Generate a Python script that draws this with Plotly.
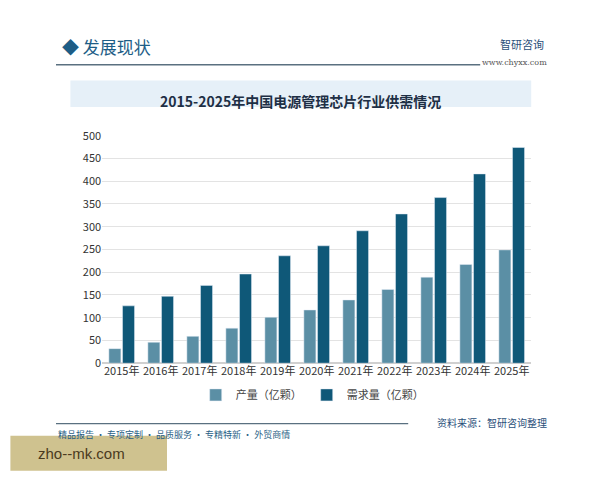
import plotly.graph_objects as go

years = ['2015年', '2016年', '2017年', '2018年', '2019年', '2020年',
         '2021年', '2022年', '2023年', '2024年', '2025年']
output = [32, 46, 59, 77, 101, 117, 139, 162, 189, 217, 249]
demand = [126, 147, 171, 196, 236, 258, 291, 328, 364, 416, 474]

FONT = "Noto Sans CJK SC"
DX = -0.013  # page body margin offset
DY = 0.019

fig = go.Figure()
fig.add_trace(go.Bar(x=years, y=output, name='产量（亿颗）',
                     marker=dict(color='#5b8fa5')))
fig.add_trace(go.Bar(x=years, y=demand, name='需求量（亿颗）',
                     marker=dict(color='#0f5878')))

fig.update_layout(
    width=600, height=480,
    paper_bgcolor='white', plot_bgcolor='white',
    font=dict(family=FONT, size=11, color='#333333'),
    margin=dict(l=0, r=0, t=0, b=0, autoexpand=False),
    barmode='group', bargap=0.3, bargroupgap=0.12,
    showlegend=True,
    legend=dict(orientation='h', x=0.52 + DX, xanchor='center', y=0.175 + DY, yanchor='middle',
                font=dict(size=11, color='#444444')),
    xaxis=dict(domain=[0.17 + DX, 0.885 + DX], showline=False, tickfont=dict(size=11)),
    yaxis=dict(domain=[0.241 + DY, 0.715 + DY], range=[0, 500], dtick=50,
               gridcolor='#e3e3e3', zeroline=True, zerolinecolor='#d0d0d0',
               tickfont=dict(size=11)),
    shapes=[
        dict(type='rect', xref='paper', yref='paper', x0=0.117 + DX, x1=0.885 + DX,
             y0=0.775 + DY, y1=0.83 + DY, fillcolor='#e6f0f8', line=dict(width=0), layer='below'),
        dict(type='line', xref='paper', yref='paper', x0=0.093 + DX, x1=0.8 + DX,
             y0=0.863 + DY, y1=0.863 + DY, line=dict(color='#5a7080', width=1.5)),
        dict(type='line', xref='paper', yref='paper', x0=0.093 + DX, x1=0.68 + DX,
             y0=0.115 + DY, y1=0.115 + DY, line=dict(color='#5a7080', width=1.2)),
        dict(type='rect', xref='paper', yref='paper', x0=0.017 + DX, x1=0.278 + DX,
             y0=0.017 + DY, y1=0.09 + DY, fillcolor='#cfc28f', line=dict(width=0)),
    ],
    annotations=[
        dict(text='◆ 发展现状', x=0.1 + DX, y=0.9 + DY, xref='paper', yref='paper',
             xanchor='left', yanchor='middle', showarrow=False,
             font=dict(size=17, color='#1d5d86', family=FONT)),
        dict(text='智研咨询', x=0.91 + DX, y=0.905 + DY, xref='paper', yref='paper',
             xanchor='right', yanchor='middle', showarrow=False,
             font=dict(size=11, color='#2a4f7a', family=FONT)),
        dict(text='www.chyxx.com', x=0.915 + DX, y=0.868 + DY, xref='paper', yref='paper',
             xanchor='right', yanchor='middle', showarrow=False,
             font=dict(size=8, color='#555555', family='DejaVu Serif')),
        dict(text='<b>2015-2025年中国电源管理芯片行业供需情况</b>', x=0.5 + DX, y=0.812 + DY,
             xref='paper', yref='paper', showarrow=False,
             font=dict(size=14, color='#1e2f45', family=FONT)),
        dict(text='资料来源：智研咨询整理', x=0.915 + DX, y=0.118 + DY, xref='paper', yref='paper',
             xanchor='right', yanchor='middle', showarrow=False,
             font=dict(size=10, color='#2a4f7a', family=FONT)),
        dict(text='精品报告 · 专项定制 · 品质服务 · 专精特新 · 外贸商情', x=0.093 + DX, y=0.093 + DY,
             xref='paper', yref='paper', xanchor='left', yanchor='middle',
             showarrow=False, font=dict(size=9, color='#2a5f86', family=FONT)),
        dict(text='zho--mk.com', x=0.06 + DX, y=0.053 + DY, xref='paper', yref='paper',
             xanchor='left', yanchor='middle', showarrow=False,
             font=dict(size=15, color='#4a3a20', family='Liberation Sans')),
    ],
)

fig.write_html("out.html")
